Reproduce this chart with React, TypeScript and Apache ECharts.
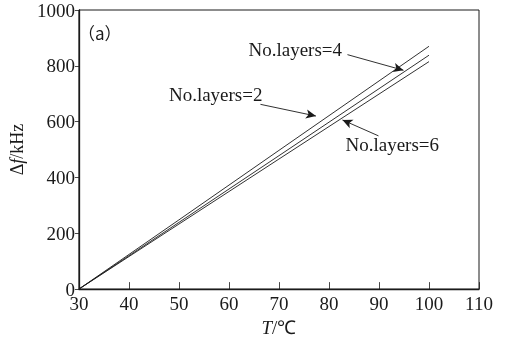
import React, { useEffect, useRef } from "react";
import * as echarts from "echarts";

// Temperature (°C) sample points along each curve
const temps = [30, 50, 70, 100];
// Frequency shift Δf (kHz) for each number of layers
const layers2 = [0, 248, 497, 870];
const layers4 = [0, 239, 478, 838];
const layers6 = [0, 233, 466, 815];

const xTicks = { min: 30, max: 110, interval: 10 };
const yTicks = { min: 0, max: 1000, interval: 200 };

// Annotation labels, anchored in data coordinates (left edge, vertical middle)
const labelTexts = ["No.layers=2", "No.layers=4", "No.layers=6"];
const labelAnchors: [number, number][] = [
  [48.0, 697],
  [63.9, 858],
  [83.3, 517],
];
// Arrow from label toward its curve: [start, tip] in data coordinates
const arrows: [[number, number], [number, number]][] = [
  [[66.3, 662], [77.4, 620]],
  [[83.7, 840], [94.9, 784]],
  [[89.9, 549], [82.7, 606]],
];
const panelTag = "（a）";
const panelTagAnchor: [number, number] = [29.8, 918];

const SERIF = "Liberation Serif";
const INK = "#1a1a1a";

export default function App() {
  const ref = useRef<HTMLDivElement>(null);

  useEffect(() => {
    if (!ref.current) return;
    const chart = echarts.init(ref.current, undefined, { renderer: "svg" });

    const curves = [layers2, layers4, layers6];
    const series: any[] = curves.map((vals, i) => ({
      type: "line",
      name: labelTexts[i],
      data: temps.map((t, k) => [t, vals[k]]),
      symbol: "none",
      lineStyle: { color: INK, width: 0.9 },
      markLine: {
        silent: true,
        symbol: ["none", "arrow"],
        symbolSize: [7, 10],
        lineStyle: { color: INK, width: 0.9, type: "solid" },
        itemStyle: { color: INK },
        label: { show: false },
        data: [[{ coord: arrows[i][0] }, { coord: arrows[i][1] }]],
      },
    }));

    chart.setOption({
      animation: false,
      textStyle: { fontFamily: SERIF },
      grid: {
        left: 76,
        right: 33,
        top: 10,
        bottom: 51,
        show: true,
        borderColor: INK,
        borderWidth: 1,
      },
      xAxis: {
        type: "value",
        ...xTicks,
        name: "{i|T}{n|/℃}",
        nameLocation: "middle",
        nameGap: 25,
        nameTextStyle: {
          rich: {
            i: { fontFamily: SERIF, fontSize: 19, fontStyle: "italic", color: INK },
            n: { fontFamily: SERIF, fontSize: 19, color: INK },
          },
        },
        axisLine: { show: true, lineStyle: { color: INK, width: 1.3 } },
        axisTick: { show: true, inside: true, length: 7, lineStyle: { color: INK, width: 0.8 } },
        axisLabel: { fontFamily: SERIF, fontSize: 19, color: INK, margin: 5 },
        splitLine: { show: false },
      },
      yAxis: {
        type: "value",
        ...yTicks,
        name: "{n|Δ}{i|f}{n|/kHz}",
        nameLocation: "middle",
        nameRotate: 90,
        nameGap: 44,
        nameTextStyle: {
          rich: {
            i: { fontFamily: SERIF, fontSize: 18, fontStyle: "italic", color: INK },
            n: { fontFamily: SERIF, fontSize: 18, color: INK },
          },
        },
        axisLine: { show: true, lineStyle: { color: INK, width: 1.3 } },
        axisTick: { show: true, inside: false, length: 4, lineStyle: { color: INK, width: 0.8 } },
        axisLabel: {
          fontFamily: SERIF,
          fontSize: 19,
          color: INK,
          margin: 4,
          formatter: (v: number) => String(v),
        },
        splitLine: { show: false },
      },
      series,
    });

    // Place text annotations once the scales are known
    const toPx = (p: [number, number]) =>
      chart.convertToPixel({ gridIndex: 0 }, p) as number[];
    const texts: any[] = labelTexts.map((t, i) => {
      const [x, y] = toPx(labelAnchors[i]);
      return {
        type: "text",
        x,
        y,
        silent: true,
        style: {
          text: t,
          fontFamily: SERIF,
          fontSize: 19,
          fill: INK,
          align: "left",
          verticalAlign: "middle",
        },
      };
    });
    const [tx, ty] = toPx(panelTagAnchor);
    texts.push({
      type: "text",
      x: tx,
      y: ty,
      silent: true,
      style: {
        text: panelTag,
        fontFamily: "Noto Sans CJK SC",
        fontSize: 17,
        fill: INK,
        align: "left",
        verticalAlign: "middle",
      },
    });
    chart.setOption({ graphic: texts });

    return () => chart.dispose();
  }, []);

  return (
    <div
      ref={ref}
      style={{ position: "fixed", left: 0, top: 0, width: 512, height: 342 }}
    />
  );
}
